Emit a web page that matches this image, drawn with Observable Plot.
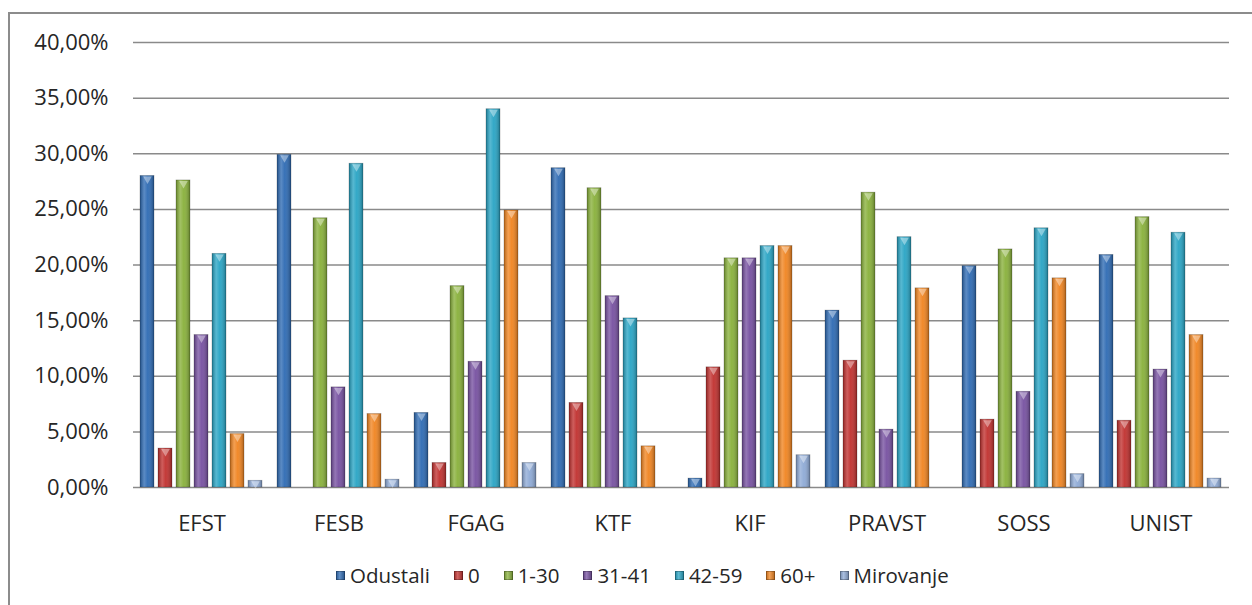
<!DOCTYPE html>
<html>
<head>
<meta charset="utf-8">
<script src="https://cdn.jsdelivr.net/npm/d3@7"></script>
<script src="https://cdn.jsdelivr.net/npm/@observablehq/plot@0.6"></script>
<style>
  html, body { margin: 0; padding: 0; background: #fff; }
  body { width: 1252px; height: 605px; overflow: hidden; position: relative; font-family: "Open Sans", sans-serif; }
  #frame { position: absolute; left: 8px; top: 12px; right: -10px; bottom: -10px;
           border-top: 2px solid #8c8c8c; border-left: 2px solid #8c8c8c; }
  #chart { position: absolute; left: 0; top: 0; }
  #legend { position: absolute; left: 326px; top: 547px; display: flex; align-items: center;
            font-size: 20.5px; color: #262626; white-space: nowrap; }
  .item { display: flex; align-items: center; margin-right: 24px; }
  .sw { width: 9px; height: 9px; margin-right: 5px; box-shadow: inset 0 0 0 1px rgba(0,0,0,0.25); }
</style>
</head>
<body>
<div id="frame"><div id="chart"></div><div id="legend"></div></div>
<script>
// Categories (faculties)
const schools = ["EFST", "FESB", "FGAG", "KTF", "KIF", "PRAVST", "SOSS", "UNIST"];
// Series names
const seriesNames = ["Odustali", "0", "1-30", "31-41", "42-59", "60+", "Mirovanje"];
// Series colors
const seriesColors = ["#2d6ab3", "#c0302e", "#88b03a", "#7650a0", "#28a4c4", "#f08420", "#8eaad6"];
// Values (fractions) per series, in order of schools
const odustali  = [0.280, 0.299, 0.067, 0.287, 0.008, 0.159, 0.199, 0.209];
const nula      = [0.035, 0.000, 0.022, 0.076, 0.108, 0.114, 0.061, 0.060];
const s1_30     = [0.276, 0.242, 0.181, 0.269, 0.206, 0.265, 0.214, 0.243];
const s31_41    = [0.137, 0.090, 0.113, 0.172, 0.206, 0.052, 0.086, 0.106];
const s42_59    = [0.210, 0.291, 0.340, 0.152, 0.217, 0.225, 0.233, 0.229];
const s60plus   = [0.048, 0.066, 0.249, 0.037, 0.217, 0.179, 0.188, 0.137];
const mirovanje = [0.006, 0.007, 0.022, 0.000, 0.029, 0.000, 0.012, 0.008];
// Y tick values
const yTicks = [0, 0.05, 0.10, 0.15, 0.20, 0.25, 0.30, 0.35, 0.40];

const seriesValues = [odustali, nula, s1_30, s31_41, s42_59, s60plus, mirovanje];
const data = [];
schools.forEach((s, i) => {
  seriesNames.forEach((n, j) => data.push({school: s, series: n, value: seriesValues[j][i]}));
});
const nonZero = data.filter(d => d.value > 0);

const fmt = d => (d * 100).toFixed(2).replace(".", ",") + "%";

const chart = Plot.plot({
  width: 1242,
  height: 530,
  marginLeft: 120,
  marginRight: 20,
  marginTop: 28,
  marginBottom: 57,
  style: {fontFamily: "'Open Sans', sans-serif", fontSize: "22px", color: "#262626", background: "transparent"},
  fx: {domain: schools, padding: 0, label: null, axis: null},
  x: {domain: seriesNames, paddingInner: 0.2, paddingOuter: 0.28, axis: null},
  y: {domain: [0, 0.4], axis: null},
  color: {domain: seriesNames, range: seriesColors},
  marks: [
    Plot.gridY(yTicks, {stroke: "#8a8a8a", strokeOpacity: 1, strokeWidth: 1.5}),
    Plot.axisY(yTicks, {tickSize: 0, tickPadding: 25, tickFormat: fmt, fontSize: 22, label: null}),
    Plot.axisFx({anchor: "bottom", tickSize: 0, tickPadding: 28, fontSize: 22, label: null}),
    Plot.barY(data, {fx: "school", x: "series", y: "value", fill: "series", stroke: "rgba(0,0,0,0.25)", strokeWidth: 0.8}),
    Plot.barY(data, {fx: "school", x: "series", y: "value", fill: "url(#shine)"}),
    Plot.dot(nonZero, {fx: "school", x: "series", y: "value", symbol: "triangle", rotate: 180, r: 3.2, dy: 3, fill: "white", fillOpacity: 0.4, stroke: "none"})
  ]
});

// gradient definition for cylinder-like shading
const ns = "http://www.w3.org/2000/svg";
const defs = document.createElementNS(ns, "defs");
defs.innerHTML = `<linearGradient id="shine" x1="0" x2="1" y1="0" y2="0">
  <stop offset="0" stop-color="#000" stop-opacity="0.25"/>
  <stop offset="0.3" stop-color="#fff" stop-opacity="0.22"/>
  <stop offset="0.55" stop-color="#fff" stop-opacity="0.05"/>
  <stop offset="1" stop-color="#000" stop-opacity="0.3"/>
</linearGradient>`;
chart.insertBefore(defs, chart.firstChild);
document.getElementById("chart").appendChild(chart);

const legend = document.getElementById("legend");
seriesNames.forEach((n, j) => {
  const it = document.createElement("div");
  it.className = "item";
  const sw = document.createElement("span");
  sw.className = "sw";
  sw.style.background = `linear-gradient(to right, rgba(0,0,0,0.2), rgba(255,255,255,0.25) 40%, rgba(0,0,0,0.25)), ${seriesColors[j]}`;
  const tx = document.createElement("span");
  tx.textContent = n;
  it.appendChild(sw); it.appendChild(tx);
  legend.appendChild(it);
});
</script>
</body>
</html>
